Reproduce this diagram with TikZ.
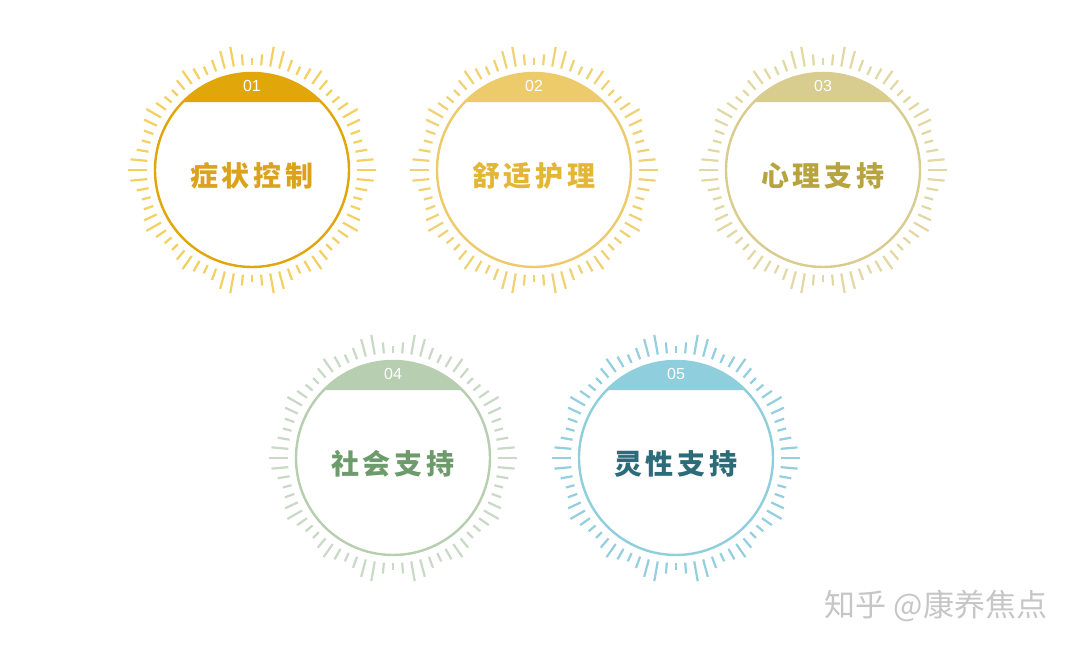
\documentclass[tikz,border=0pt]{standalone}
\usepackage{fontspec}
\setmainfont{Liberation Sans}
\newfontfamily\cjk{Noto Sans CJK SC}
\definecolor{capA}{HTML}{E0A60A}\definecolor{txtA}{HTML}{DBA21C}\definecolor{rayA}{HTML}{F4D062}
\definecolor{capB}{HTML}{EDCB6B}\definecolor{txtB}{HTML}{E3B636}\definecolor{rayB}{HTML}{F0D274}
\definecolor{capC}{HTML}{D8CC8E}\definecolor{txtC}{HTML}{B7A43F}\definecolor{rayC}{HTML}{E2D8A4}
\definecolor{capD}{HTML}{B7CEB1}\definecolor{txtD}{HTML}{6E9B6B}\definecolor{rayD}{HTML}{C8DAC6}
\definecolor{capE}{HTML}{8FCEDC}\definecolor{txtE}{HTML}{2C6B78}\definecolor{rayE}{HTML}{93CFDF}
\definecolor{wm}{HTML}{C6C6C6}
\tikzset{
  rayline/.style={line width=2.2pt},
  ringline/.style={line width=2.4pt},
  numlabel/.style={text=white,font=\fontsize{16}{16}\selectfont,inner sep=0pt},
  titlelabel/.style={font=\cjk\bfseries\fontsize{28}{28}\selectfont,inner sep=0pt},
}
\def\gp{\hspace{4pt}}
\newcommand\badge[8]{%
  \coordinate (#1) at (#2,#3);
  \foreach \i in {0,...,71}{%
    \pgfmathtruncatemacro\jj{mod(\i,36)}%
    \pgfmathtruncatemacro\kk{\jj>18 ? 36-\jj : \jj}%
    \pgfmathsetmacro\len{{19,17,12,9,10,14,17,12,9,8,12,16,12,9,12,18,20,11,7}[\kk]}%
    \draw[rayline,#8] (#1) ++(\i*5:105pt) -- ++(\i*5:\len pt);
  }
  \fill[#6] (#1) ++(44.5:97pt) arc[start angle=44.5,end angle=135.5,radius=97pt] -- cycle;
  \draw[ringline,#6] (#1) circle[radius=97pt];
  \node[numlabel] (#1-num) at ([yshift=84pt]#1) {#4};
  \node[titlelabel,text=#7] (#1-txt) at ([yshift=-6pt]#1) {#5};
}
\begin{document}
\begin{tikzpicture}[x=1pt,y=1pt]
\fill[white] (0,0) rectangle (1080,652);
\useasboundingbox (0,0) rectangle (1080,652);
\badge{c1}{252}{482}{01}{症\gp 状\gp 控\gp 制}{capA}{txtA}{rayA}
\badge{c2}{534}{482}{02}{舒\gp 适\gp 护\gp 理}{capB}{txtB}{rayB}
\badge{c3}{823}{482}{03}{心\gp 理\gp 支\gp 持}{capC}{txtC}{rayC}
\badge{c4}{393}{194}{04}{社\gp 会\gp 支\gp 持}{capD}{txtD}{rayD}
\badge{c5}{676}{194}{05}{灵\gp 性\gp 支\gp 持}{capE}{txtE}{rayE}
\node[text=wm,font=\cjk\fontsize{31}{31}\selectfont,inner sep=0pt] (wmark) at (936,46) {知乎 @康养焦点};
\end{tikzpicture}
\end{document}
